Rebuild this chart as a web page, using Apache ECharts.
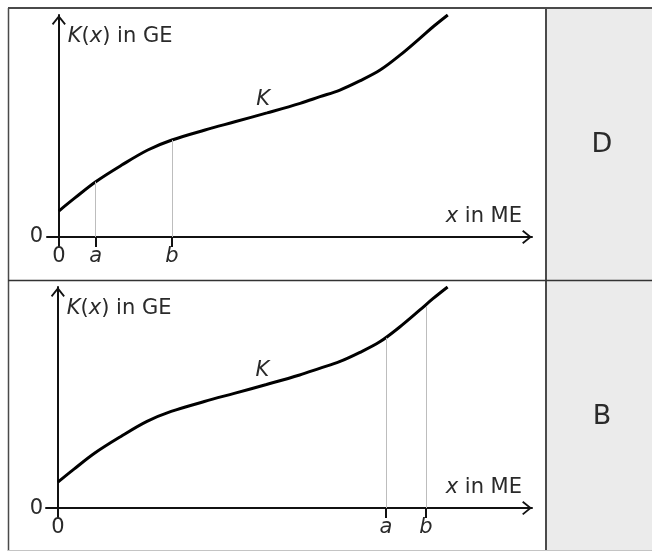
<!DOCTYPE html>
<html>
<head>
<meta charset="utf-8">
<script src="https://cdn.jsdelivr.net/npm/echarts@6/dist/echarts.min.js"></script>
<style>
  html, body { margin: 0; padding: 0; background: #fff; }
  #chart { width: 652px; height: 552px; }
</style>
</head>
<body>
<div id="chart"></div>
<script>
// curve K (x in ME, K(x) in GE, arbitrary units)
const curveX = [0, 3.4, 7.8, 13.3, 18.8, 23.9, 30.9, 37.2, 44.0, 51.0, 55.2, 59.4, 63.6, 67.9, 72.1, 76.3, 79.1, 82.2];
const curveY = [11.7, 17.6, 24.9, 32.4, 39.2, 43.7, 48.2, 51.9, 55.9, 60.2, 63.2, 66.2, 70.3, 75.2, 81.9, 89.5, 94.7, 100];

// marked positions 0, a, b on the x axis and the curve height above a, b
const tickNames = ["0", "a", "b"];
const topTicks = [0, 7.8, 23.9];
const topHeights = [24.9, 43.7];
const bottomTicks = [0, 69.2, 77.6];
const bottomHeights = [77, 91];

const panelLetters = ["D", "B"];

const font = "DejaVu Sans";
const ink = "#2a2a2a";
const arrow = "path://M0,8.6 L7,0 L14,8.6 L12.6,9.8 L7,2.8 L1.4,9.8 Z";
const txt = { fontFamily: font, fontSize: 21, color: ink };
const italic = Object.assign({}, txt, { fontStyle: "italic" });

const curveData = curveX.map((x, i) => {
  const p = { value: [x, curveY[i]] };
  if (i === 8) {
    p.label = Object.assign({ show: true, formatter: "K", position: "top", distance: 3, offset: [-4, 0] }, italic);
  }
  return p;
});

// axes run a little past the origin, like the drawing (x from -2.5, y from -4.5)
function xAxisFor(idx, ticks) {
  return {
    type: "value", gridIndex: idx, min: -2.5, max: 100,
    name: "{i|x} in ME", nameLocation: "end", nameGap: -10,
    nameTextStyle: Object.assign({ align: "right", verticalAlign: "bottom", padding: [0, 0, 10, 0], rich: { i: italic } }, txt),
    splitLine: { show: false },
    axisLine: { onZero: true, symbol: ["none", arrow], symbolSize: [14, 10], symbolOffset: [0, -5],
      lineStyle: { color: "#111", width: 2 } },
    axisTick: { show: true, customValues: ticks.slice(1), length: 10, lineStyle: { color: "#111", width: 2 } },
    axisLabel: Object.assign({
      customValues: ticks, margin: -1,
      formatter: (v) => {
        const k = ticks.indexOf(v);
        const n = k >= 0 ? tickNames[k] : "";
        return n === "0" ? n : "{i|" + n + "}";
      },
      rich: { i: italic }
    }, txt)
  };
}

function yAxisFor(idx, margin) {
  return {
    type: "value", gridIndex: idx, min: -4.5, max: 100,
    name: "{i|K}({i|x}) in GE", nameLocation: "end", nameGap: -22,
    nameTextStyle: Object.assign({ align: "left", verticalAlign: "middle", padding: [0, 0, 0, 9], rich: { i: italic } }, txt),
    splitLine: { show: false },
    axisLine: { onZero: true, symbol: ["none", arrow], symbolSize: [14, 10], symbolOffset: [0, -5],
      lineStyle: { color: "#111", width: 2 } },
    axisTick: { show: false },
    axisLabel: Object.assign({ customValues: [0], margin: margin, formatter: () => "0" }, txt)
  };
}

function dropLines(ticks, heights) {
  return heights.map((h, i) => [
    { coord: [ticks[i + 1], 0] },
    { coord: [ticks[i + 1], h] }
  ]);
}

function curveSeries(idx, ticks, heights) {
  return {
    type: "line", xAxisIndex: idx, yAxisIndex: idx,
    data: curveData, smooth: 0.35,
    showSymbol: true, symbol: "circle", symbolSize: 0,
    lineStyle: { color: "#000", width: 3 },
    markLine: {
      silent: true, symbol: "none", label: { show: false },
      lineStyle: { color: "#bdbdbd", width: 1, type: "solid" },
      data: dropLines(ticks, heights)
    },
    z: 3
  };
}

const chart = echarts.init(document.getElementById("chart"));
chart.setOption({
  animation: false,
  backgroundColor: "#fff",
  grid: [
    { left: 47, top: 15, width: 485, height: 232 },
    { left: 46, top: 287, width: 486, height: 231 }
  ],
  xAxis: [xAxisFor(0, topTicks), xAxisFor(1, bottomTicks)],
  yAxis: [yAxisFor(0, 4), yAxisFor(1, 3)],
  series: [curveSeries(0, topTicks, topHeights), curveSeries(1, bottomTicks, bottomHeights)],
  graphic: [
    { type: "rect", z: -10, shape: { x: 546, y: 8, width: 110, height: 542 }, style: { fill: "#ebebeb" } },
    { type: "line", z: -5, shape: { x1: 8, y1: 8, x2: 652, y2: 8 }, style: { stroke: "#4a4a4a", lineWidth: 2 } },
    { type: "line", z: -5, shape: { x1: 8.5, y1: 8, x2: 8.5, y2: 551 }, style: { stroke: "#4a4a4a", lineWidth: 1.5 } },
    { type: "line", z: -5, shape: { x1: 546, y1: 8, x2: 546, y2: 551 }, style: { stroke: "#4a4a4a", lineWidth: 2 } },
    { type: "line", z: -5, shape: { x1: 8, y1: 280.5, x2: 652, y2: 280.5 }, style: { stroke: "#333", lineWidth: 1.5 } },
    { type: "line", z: -5, shape: { x1: 8, y1: 550.5, x2: 652, y2: 550.5 }, style: { stroke: "#c4c4c4", lineWidth: 1 } },
    { type: "text", style: { text: panelLetters[0], x: 602, y: 145, align: "center", verticalAlign: "middle",
      fontFamily: font, fontSize: 27, fill: ink } },
    { type: "text", style: { text: panelLetters[1], x: 602, y: 417, align: "center", verticalAlign: "middle",
      fontFamily: font, fontSize: 27, fill: ink } }
  ]
});
</script>
</body>
</html>
